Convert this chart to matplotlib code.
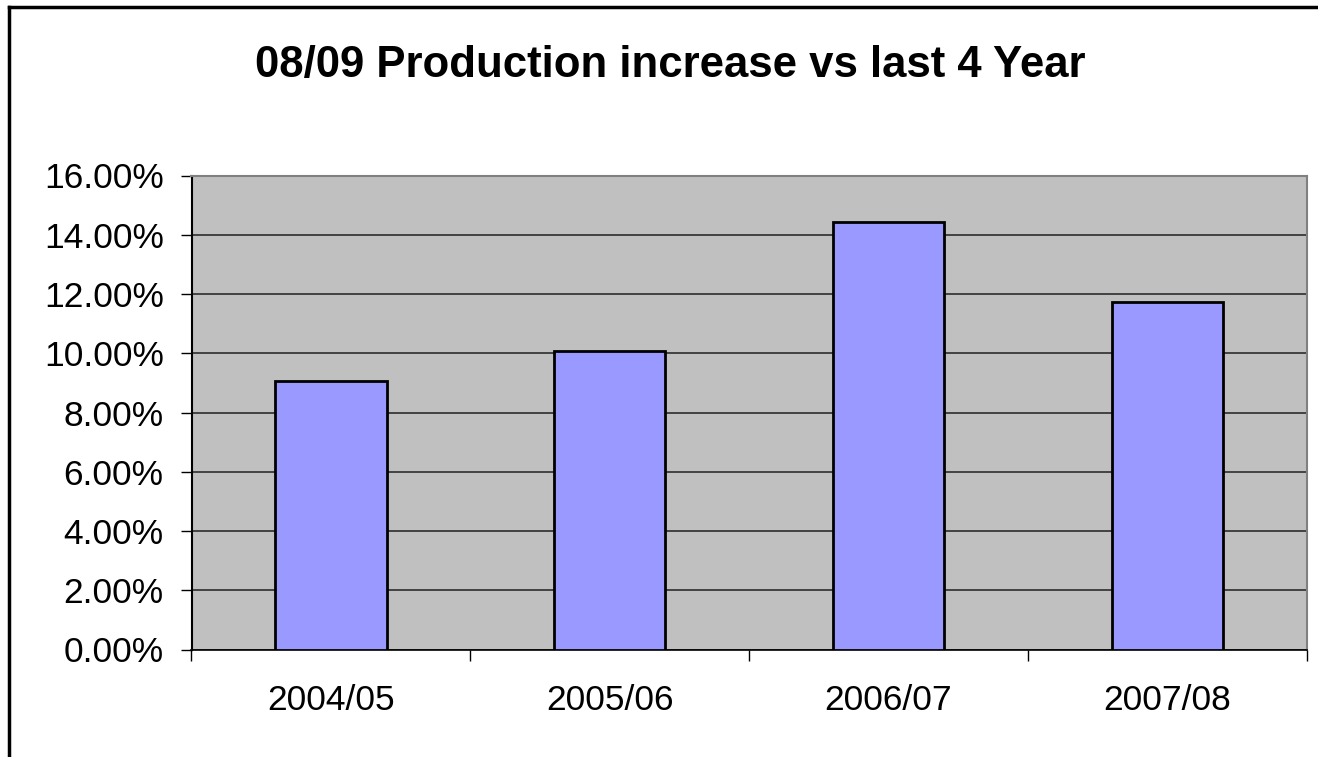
import matplotlib
matplotlib.use("Agg")
import matplotlib.pyplot as plt
from matplotlib.ticker import FuncFormatter, MultipleLocator
from matplotlib.lines import Line2D

categories = ["2004/05", "2005/06", "2006/07", "2007/08"]
values = [9.06, 10.08, 14.42, 11.73]
title = "08/09 Production increase vs last 4 Year"

plt.rcParams['font.family'] = ['Liberation Sans', 'DejaVu Sans']

W, H = 1318, 757
fig = plt.figure(figsize=(W / 100, H / 100), dpi=100)
ax = fig.add_axes([191.5 / W, 1 - 649.5 / H, (1306.7 - 191.5) / W, (649.5 - 175.5) / H])
ax.set_facecolor("#C0C0C0")

x = list(range(len(categories)))
ax.bar(x, values, width=0.40, color="#9999FF", edgecolor="black", linewidth=2, zorder=3)

ax.set_xlim(-0.5, len(categories) - 0.5)
ax.set_ylim(0, 16)
ax.yaxis.set_major_locator(MultipleLocator(2))
ax.yaxis.set_major_formatter(FuncFormatter(lambda v, p: f"{v:.2f}%"))
ax.grid(axis="y", color="#202020", linewidth=1.1, zorder=1)
ax.set_xticks(x)
ax.set_xticklabels(categories)
ax.set_xticks([i - 0.5 for i in range(len(categories) + 1)], minor=True)
ax.tick_params(axis="x", which="major", length=0, pad=25, labelsize=25.5)
ax.tick_params(axis="x", which="minor", length=8, width=1, direction="out")
ax.tick_params(axis="y", length=8, width=1, direction="out", labelsize=25.5, pad=12)

for s in ["top", "right"]:
    ax.spines[s].set_color("#808080")
    ax.spines[s].set_linewidth(1.5)
ax.spines["left"].set_color("black")
ax.spines["left"].set_linewidth(1.5)
ax.spines["bottom"].set_color("black")
ax.spines["bottom"].set_linewidth(1.2)

fig.text(670 / W, 1 - 65 / H, title, ha="center", va="center", fontsize=31.5, fontweight="bold")

fig.add_artist(Line2D([9 / W, 9 / W], [0, 1 - 7 / H], transform=fig.transFigure, color="black", linewidth=2.5))
fig.add_artist(Line2D([9 / W, 1], [1 - 7 / H, 1 - 7 / H], transform=fig.transFigure, color="black", linewidth=2.5))

fig.savefig("out.png", dpi=100, facecolor="white")
